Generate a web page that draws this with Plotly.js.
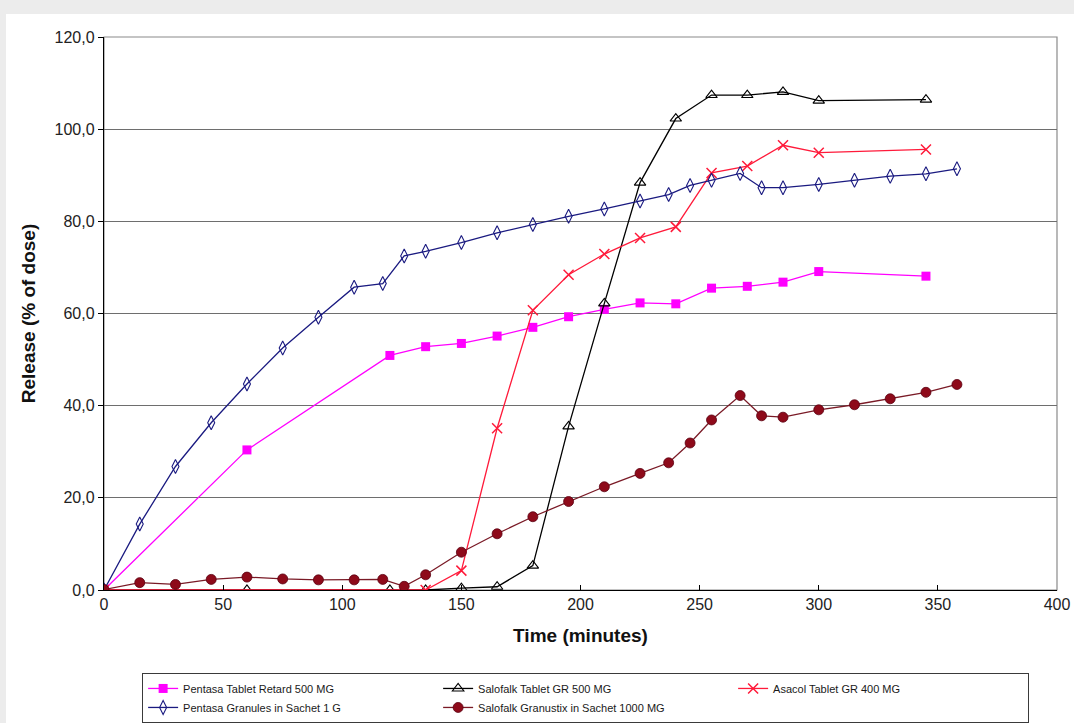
<!DOCTYPE html>
<html>
<head>
<meta charset="utf-8">
<script src="https://cdn.plot.ly/plotly-3.0.1.min.js"></script>
<style>
  html, body { margin: 0; padding: 0; background: #ececec; width: 1074px; height: 723px; overflow: hidden; }
  #chart { position: absolute; left: 6px; top: 14px; width: 1068px; height: 709px; background: #ffffff; }
</style>
</head>
<body>
<div id="chart"></div>
<script>
// ---- data ----
const seriesNames = [
  "Pentasa Tablet Retard 500 MG",
  "Salofalk Tablet GR 500 MG",
  "Asacol Tablet GR 400 MG",
  "Pentasa Granules in Sachet 1 G",
  "Salofalk Granustix in Sachet 1000 MG"
];

const pentasaTabletTime = [0, 60, 120, 135, 150, 165, 180, 195, 210, 225, 240, 255, 270, 285, 300, 345];
const pentasaTabletRelease = [0, 30.4, 50.9, 52.8, 53.5, 55.1, 57.0, 59.3, 60.9, 62.3, 62.1, 65.5, 65.9, 66.8, 69.1, 68.1];

const salofalkTabletTime = [0, 60, 120, 135, 150, 165, 180, 195, 210, 225, 240, 255, 270, 285, 300, 345];
const salofalkTabletRelease = [0, 0, 0, 0, 0.4, 0.7, 5.3, 35.5, 62.2, 88.4, 102.3, 107.4, 107.4, 108.1, 106.2, 106.4];

const asacolTime = [0, 135, 150, 165, 180, 195, 210, 225, 240, 255, 270, 285, 300, 345];
const asacolRelease = [0, 0, 4.2, 35.1, 60.7, 68.4, 72.9, 76.4, 78.8, 90.5, 92.0, 96.5, 94.9, 95.6];

const pentasaGranulesTime = [0, 15, 30, 45, 60, 75, 90, 105, 117, 126, 135, 150, 165, 180, 195, 210, 225, 237, 246, 255, 267, 276, 285, 300, 315, 330, 345, 358];
const pentasaGranulesRelease = [0, 14.3, 26.8, 36.3, 44.7, 52.5, 59.2, 65.7, 66.5, 72.5, 73.5, 75.4, 77.5, 79.3, 81.1, 82.7, 84.4, 85.8, 87.8, 88.9, 90.4, 87.3, 87.3, 88.0, 88.9, 89.8, 90.3, 91.4];

const granustixTime = [0, 15, 30, 45, 60, 75, 90, 105, 117, 126, 135, 150, 165, 180, 195, 210, 225, 237, 246, 255, 267, 276, 285, 300, 315, 330, 345, 358];
const granustixRelease = [0.1, 1.6, 1.2, 2.3, 2.8, 2.4, 2.2, 2.2, 2.3, 0.8, 3.3, 8.2, 12.2, 15.9, 19.2, 22.4, 25.3, 27.6, 31.9, 36.9, 42.2, 37.8, 37.5, 39.1, 40.2, 41.5, 42.9, 44.6];

const xTitle = "Time (minutes)";
const yTitle = "Release (% of dose)";

// ---- traces ----
const traces = [
  {
    x: pentasaTabletTime, y: pentasaTabletRelease, name: seriesNames[0],
    type: "scatter", mode: "lines+markers",
    line: { color: "#ff00ff", width: 1.3 },
    marker: { symbol: "square", size: 9, color: "#ff00ff" }
  },
  {
    x: salofalkTabletTime, y: salofalkTabletRelease, name: seriesNames[1],
    type: "scatter", mode: "lines+markers",
    line: { color: "#000000", width: 1.3 },
    marker: { symbol: "triangle-up-open", size: 10, color: "#000000", line: { width: 1.1, color: "#000000" } }
  },
  {
    x: asacolTime, y: asacolRelease, name: seriesNames[2],
    type: "scatter", mode: "lines+markers",
    line: { color: "#ff1a3a", width: 1.3 },
    marker: { symbol: "x-thin-open", size: 10, color: "#ff1a3a", line: { width: 1.5, color: "#ff1a3a" } }
  },
  {
    x: pentasaGranulesTime, y: pentasaGranulesRelease, name: seriesNames[3],
    type: "scatter", mode: "lines+markers",
    line: { color: "#1a1a80", width: 1.3 },
    marker: { symbol: "diamond-tall-open", size: 10, color: "#1a1a80", line: { width: 1.1, color: "#1a1a80" } }
  },
  {
    x: granustixTime, y: granustixRelease, name: seriesNames[4],
    type: "scatter", mode: "lines+markers",
    line: { color: "#7a1a26", width: 1.3 },
    marker: { symbol: "circle", size: 10, color: "#8e0a1a", line: { width: 0.8, color: "#5a0010" } }
  }
];

const font = "Liberation Sans, Arial, sans-serif";

const layout = {
  width: 1068, height: 709,
  margin: { l: 98, r: 17, t: 23, b: 133, autoexpand: false },
  paper_bgcolor: "#ffffff",
  plot_bgcolor: "#ffffff",
  separators: ", ",
  font: { family: font, color: "#222222" },
  showlegend: true,
  xaxis: {
    range: [0, 400], dtick: 50, tick0: 0,
    showgrid: false, zeroline: false,
    showline: true, linecolor: "#000000", linewidth: 1.2,
    ticks: "inside", ticklen: 5, tickcolor: "#000000",
    tickfont: { family: font, size: 16, color: "#222222" },
    title: { text: "<b>" + xTitle + "</b>", font: { family: font, size: 19, color: "#111111" }, standoff: 16 }
  },
  yaxis: {
    range: [0, 120], dtick: 20, tick0: 0, tickformat: ".1f",
    showgrid: true, gridcolor: "#6e6e6e", gridwidth: 1.2,
    zeroline: false,
    showline: true, linecolor: "#000000", linewidth: 1.2,
    ticks: "outside", ticklen: 5, tickcolor: "#000000",
    tickfont: { family: font, size: 16, color: "#222222" },
    title: { text: "<b>" + yTitle + "</b>", font: { family: font, size: 19, color: "#111111" }, standoff: 14 }
  },
  shapes: [
    { type: "rect", xref: "paper", yref: "paper", x0: 0, x1: 1, y0: 0, y1: 1,
      line: { color: "#8a8a8a", width: 1.2 }, layer: "below" }
  ],
  legend: {
    orientation: "h",
    x: 0.04, xanchor: "left",
    y: -0.15, yanchor: "top",
    entrywidth: 250, entrywidthmode: "pixels",
    bordercolor: "#3a3a3a", borderwidth: 1, bgcolor: "#ffffff",
    font: { family: font, size: 11, color: "#1a1a1a" },
    itemwidth: 30, tracegroupgap: 0
  }
};

Plotly.newPlot("chart", traces, layout, { displayModeBar: false, staticPlot: true });
</script>
</body>
</html>
